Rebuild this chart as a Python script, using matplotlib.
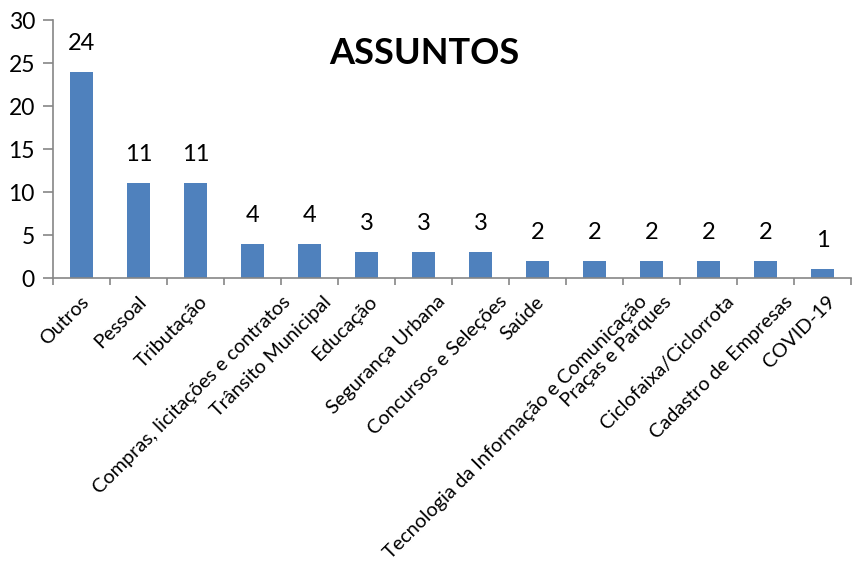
import matplotlib
matplotlib.use("Agg")
import matplotlib.pyplot as plt
import matplotlib.transforms as mtransforms
import numpy as np

categories = ["Outros", "Pessoal", "Tributação", "Compras, licitações e contratos",
              "Trânsito Municipal", "Educação", "Segurança Urbana", "Concursos e Seleções",
              "Saúde", "Tecnologia da Informação e Comunicação", "Praças e Parques",
              "Ciclofaixa/Ciclorrota", "Cadastro de Empresas", "COVID-19"]
values = [24, 11, 11, 4, 4, 3, 3, 3, 2, 2, 2, 2, 2, 1]
yticks = [0, 5, 10, 15, 20, 25, 30]
title = "ASSUNTOS"

plt.rcParams['font.family'] = ['Lato', 'DejaVu Sans']

DPI = 100
fig = plt.figure(figsize=(8.52, 5.62), dpi=DPI)
ax = fig.add_axes([53/852, 1-278/562, 1-53/852 - 0.001, (278-20)/562])

x = np.arange(len(categories))
ax.bar(x, values, width=0.4, color="#4F81BD", zorder=2)

for xi, v in zip(x, values):
    ax.annotate(str(v), (xi, v), xytext=(0, 13), textcoords="offset points",
                ha="center", va="bottom", fontsize=17, color="black")

ax.set_xlim(-0.5, len(categories) - 0.5)
ax.set_ylim(0, 30)
ax.set_yticks(yticks)
ax.set_yticklabels([str(t) for t in yticks], fontsize=16.5)

ax.set_xticks(np.arange(len(categories) + 1) - 0.5)
ax.set_xticklabels([])
ax.tick_params(axis="x", which="major", length=5, width=1.2, color="#868686", direction="out")
ax.tick_params(axis="y", length=7, width=1.2, color="#868686", direction="out", pad=6)

for s in ["top", "right"]:
    ax.spines[s].set_visible(False)
for s in ["left", "bottom"]:
    ax.spines[s].set_color("#868686")
    ax.spines[s].set_linewidth(1.2)

# Category labels, rotated 45 degrees, placed like the spreadsheet layout
label_fs = 14.3
fig.canvas.draw()
renderer = fig.canvas.get_renderer()
for xi, cat in zip(x, categories):
    tmp = fig.text(0, 0, cat, fontsize=label_fs)
    L = tmp.get_window_extent(renderer).width
    tmp.remove()
    dx_px = 0.148 * L + 1.5
    trans = ax.get_xaxis_transform() + mtransforms.ScaledTranslation(
        dx_px / DPI, -15 / DPI, fig.dpi_scale_trans)
    ax.text(xi, 0, cat, transform=trans, rotation=45, ha="right", va="top",
            fontsize=label_fs, color="black", clip_on=False)

fig.text(424/852, 1-54/562, title, ha="center", va="center", fontsize=26, fontweight="bold")

fig.savefig("out.png", dpi=DPI)
